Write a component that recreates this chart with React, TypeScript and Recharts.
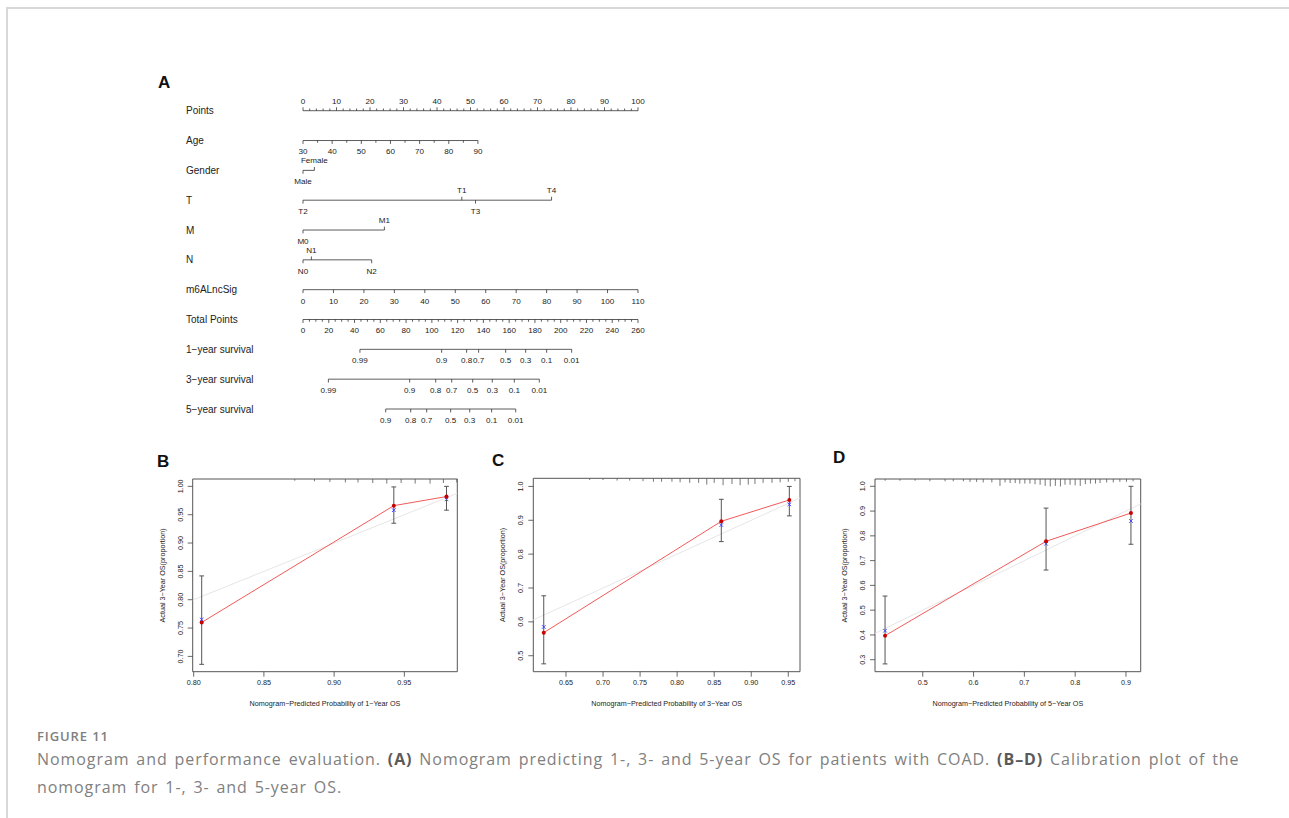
import React from 'react';
import {
  ComposedChart,
  XAxis,
  YAxis,
  Scatter,
  ReferenceLine,
  ReferenceArea,
  ErrorBar,
  Label,
} from 'recharts';

const FONT = '"Liberation Sans", Arial, Helvetica, sans-serif';
const CAP_FONT = '"Open Sans", "Noto Sans", sans-serif';

// ---------------- Panel A: nomogram ----------------
const rowNames = [
  'Points',
  'Age',
  'Gender',
  'T',
  'M',
  'N',
  'm6ALncSig',
  'Total Points',
  '1−year survival',
  '3−year survival',
  '5−year survival',
];

const pointsLabels = [0, 10, 20, 30, 40, 50, 60, 70, 80, 90, 100];
const POINTS_MINOR_STEP = 2;

const ageTickValues = [30, 35, 40, 45, 50, 55, 60, 65, 70, 75, 80, 85, 90];
const ageLabels = [30, 40, 50, 60, 70, 80, 90];
const AGE_AT_100_POINTS = 144.9; // age 90 scores ~52.2 points

const genderLevels = ['Male', 'Female'];
const genderPoints = [0, 3.4];
const genderSides = ['below', 'above'];

const tLevels = ['T2', 'T1', 'T3', 'T4'];
const tPoints = [0, 47.4, 51.5, 74.2];
const tSides = ['below', 'above', 'below', 'above'];

const mLevels = ['M0', 'M1'];
const mPoints = [0, 24.3];
const mSides = ['below', 'above'];

const nLevels = ['N0', 'N1', 'N2'];
const nPoints = [0, 2.5, 20.5];
const nSides = ['below', 'above', 'below'];

const sigLabels = [0, 10, 20, 30, 40, 50, 60, 70, 80, 90, 100, 110];
const SIG_AT_100_POINTS = 110;

const totalLabels = [0, 20, 40, 60, 80, 100, 120, 140, 160, 180, 200, 220, 240, 260];
const TOTAL_MINOR_STEP = 5;
const TOTAL_AT_100_POINTS = 260;

const survLabels1 = ['0.99', '0.9', '0.8', '0.7', '0.5', '0.3', '0.1', '0.01'];
const survTotal1 = [44.2, 107.6, 127.0, 136.3, 157.3, 172.8, 189.1, 208.5];
const survLabels3 = ['0.99', '0.9', '0.8', '0.7', '0.5', '0.3', '0.1', '0.01'];
const survTotal3 = [19.7, 82.8, 103.0, 115.4, 131.7, 146.9, 164.0, 183.4];
const survLabels5 = ['0.9', '0.8', '0.7', '0.5', '0.3', '0.1', '0.01'];
const survTotal5 = [64.2, 83.6, 96.0, 114.6, 129.4, 146.4, 165.1];

// ---------------- Panels B-D: calibration ----------------
const predB = [0.8057, 0.9425, 0.980];
const obsB = [0.760, 0.966, 0.982];
const corrB = [0.765, 0.958, 0.977];
const loB = [0.686, 0.935, 0.958];
const hiB = [0.842, 0.999, 1.0];
const rugXB = [0.872, 0.886, 0.897, 0.908, 0.917, 0.9275, 0.9375, 0.9477, 0.9577, 0.9683, 0.9778, 0.9873];
const rugNB = [1.5, 2, 2.5, 3, 3, 3.5, 4, 3.5, 4, 4, 3.5, 3];

const predC = [0.620, 0.8596, 0.9514];
const obsC = [0.568, 0.897, 0.960];
const corrC = [0.585, 0.886, 0.947];
const loC = [0.476, 0.837, 0.913];
const hiC = [0.677, 0.962, 1.0];
const rugXC = [0.682, 0.700, 0.719, 0.736, 0.754, 0.768, 0.779, 0.793, 0.804, 0.817, 0.829, 0.840, 0.850, 0.862, 0.874, 0.885, 0.896, 0.905, 0.916, 0.928, 0.939, 0.950, 0.959];
const rugNC = [1.5, 1.5, 2, 2, 2.5, 3, 3, 3, 3.5, 4, 4, 5.5, 4, 6, 5, 6, 5.5, 5, 4, 4, 3.5, 3, 2.5];

const predD = [0.4258, 0.7427, 0.9098];
const obsD = [0.397, 0.778, 0.892];
const corrD = [0.417, 0.768, 0.860];
const loD = [0.283, 0.662, 0.766];
const hiD = [0.557, 0.912, 1.0];
const rugXD = [0.426, 0.455, 0.485, 0.514, 0.544, 0.56, 0.580, 0.593, 0.606, 0.619, 0.636, 0.652, 0.662, 0.672, 0.682, 0.691, 0.701, 0.711, 0.721, 0.731, 0.741, 0.751, 0.761, 0.771, 0.780, 0.790, 0.800, 0.810, 0.820, 0.830, 0.840, 0.849, 0.862, 0.875, 0.888, 0.901, 0.914];
const rugND = [1.5, 1.5, 1.5, 2, 2, 2, 2, 2.5, 2.5, 3, 3, 6, 3, 3.5, 3.5, 4, 4, 4, 4.5, 5, 6, 6.5, 6, 6.5, 5, 5, 5.5, 6, 4.5, 4, 4, 3.5, 3, 3, 2.5, 2.5, 2];

// ---------------- helpers ----------------
type Side = 'above' | 'below';
interface Mark {
  x: number;
  y: number;
  label?: string;
  side: Side;
  minor?: boolean;
}

function buildMarks(row: number, xs: number[], labels: (string | undefined)[], sides: Side[] | Side, minor = false): Mark[] {
  return xs.map((x, i) => ({
    x,
    y: row,
    label: labels[i],
    side: Array.isArray(sides) ? sides[i] : sides,
    minor,
  }));
}

function stepValues(from: number, to: number, step: number, skip: number[]): number[] {
  const out: number[] = [];
  for (let v = from; v <= to + 1e-9; v += step) {
    if (!skip.some((s) => Math.abs(s - v) < 1e-9)) out.push(v);
  }
  return out;
}

const TickShape = (p: any) => {
  const { cx, cy, payload } = p;
  if (cx == null || cy == null) return <g />;
  const dir = payload.side === 'above' ? -1 : 1;
  const len = payload.minor ? 2.2 : 3.4;
  return (
    <g>
      <line x1={cx} y1={cy} x2={cx} y2={cy + dir * len} stroke="#333" strokeWidth={0.8} />
      {payload.label ? (
        <text
          x={cx}
          y={cy + (dir < 0 ? -10 : 11)}
          dy="0.35em"
          textAnchor="middle"
          fontSize={8.1}
          fill="#222"
          fontFamily={FONT}
        >
          {payload.label}
        </text>
      ) : null}
    </g>
  );
};

const RowLabel = (p: any) => (
  <text x={186} y={p.y} dy="0.36em" fontSize={10} fill="#222" fontFamily={FONT}>
    {rowNames[p.payload.value]}
  </text>
);

function Nomogram() {
  const pointsMinor = stepValues(0, 100, POINTS_MINOR_STEP, pointsLabels);
  const ageMinor = ageTickValues.filter((v) => !ageLabels.includes(v));
  const totalMinor = stepValues(0, 260, TOTAL_MINOR_STEP, totalLabels);

  const groups: { axis: string; data: Mark[] }[] = [
    { axis: 'pts', data: buildMarks(0, pointsMinor, [], 'above', true) },
    { axis: 'pts', data: buildMarks(0, pointsLabels, pointsLabels.map(String), 'above') },
    { axis: 'age', data: buildMarks(1, ageMinor, [], 'below', true) },
    { axis: 'age', data: buildMarks(1, ageLabels, ageLabels.map(String), 'below') },
    { axis: 'pts', data: buildMarks(2, genderPoints, genderLevels, genderSides as Side[]) },
    { axis: 'pts', data: buildMarks(3, tPoints, tLevels, tSides as Side[]) },
    { axis: 'pts', data: buildMarks(4, mPoints, mLevels, mSides as Side[]) },
    { axis: 'pts', data: buildMarks(5, nPoints, nLevels, nSides as Side[]) },
    { axis: 'sig', data: buildMarks(6, sigLabels, sigLabels.map(String), 'below') },
    { axis: 'tot', data: buildMarks(7, totalMinor, [], 'below', true) },
    { axis: 'tot', data: buildMarks(7, totalLabels, totalLabels.map(String), 'below') },
    { axis: 'tot', data: buildMarks(8, survTotal1, survLabels1, 'below') },
    { axis: 'tot', data: buildMarks(9, survTotal3, survLabels3, 'below') },
    { axis: 'tot', data: buildMarks(10, survTotal5, survLabels5, 'below') },
  ];

  const segs = [
    { axis: 'pts', row: 0, xs: pointsLabels },
    { axis: 'age', row: 1, xs: ageTickValues },
    { axis: 'pts', row: 2, xs: genderPoints },
    { axis: 'pts', row: 3, xs: tPoints },
    { axis: 'pts', row: 4, xs: mPoints },
    { axis: 'pts', row: 5, xs: nPoints },
    { axis: 'sig', row: 6, xs: sigLabels },
    { axis: 'tot', row: 7, xs: totalLabels },
    { axis: 'tot', row: 8, xs: survTotal1 },
    { axis: 'tot', row: 9, xs: survTotal3 },
    { axis: 'tot', row: 10, xs: survTotal5 },
  ];

  return (
    <ComposedChart width={700} height={440} margin={{ top: 110.7, right: 62, bottom: 31, left: 203 }}>
      <XAxis xAxisId="pts" type="number" dataKey="x" domain={[0, 100]} hide />
      <XAxis xAxisId="age" type="number" dataKey="x" domain={[30, AGE_AT_100_POINTS]} hide />
      <XAxis xAxisId="sig" type="number" dataKey="x" domain={[0, SIG_AT_100_POINTS]} hide />
      <XAxis xAxisId="tot" type="number" dataKey="x" domain={[0, TOTAL_AT_100_POINTS]} hide />
      <YAxis
        type="number"
        dataKey="y"
        domain={[0, 10]}
        reversed
        ticks={rowNames.map((_, i) => i)}
        interval={0}
        width={100}
        axisLine={false}
        tickLine={false}
        tick={(p: any) => <RowLabel {...p} />}
      />
      {segs.map((s, i) => (
        <ReferenceLine
          key={'seg' + i}
          xAxisId={s.axis}
          segment={[
            { x: Math.min(...s.xs), y: s.row },
            { x: Math.max(...s.xs), y: s.row },
          ]}
          stroke="#333"
          strokeWidth={0.8}
          ifOverflow="visible"
        />
      ))}
      {groups.map((g, i) => (
        <Scatter
          key={'grp' + i}
          xAxisId={g.axis}
          data={g.data}
          shape={(p: any) => <TickShape {...p} />}
          isAnimationActive={false}
        />
      ))}
    </ComposedChart>
  );
}

// ---------------- calibration chart ----------------
interface CalCfg {
  pred: number[];
  obs: number[];
  corr: number[];
  lo: number[];
  hi: number[];
  rugX: number[];
  rugN: number[];
  xDomain: [number, number];
  yDomain: [number, number];
  xTicks: number[];
  yTicks: number[];
  xDec: number;
  yDec: number;
  xLabel: string;
  margin: { top: number; right: number; bottom: number; left: number };
}

const calB: CalCfg = {
  pred: predB, obs: obsB, corr: corrB, lo: loB, hi: hiB, rugX: rugXB, rugN: rugNB,
  xDomain: [0.7993, 0.9877],
  yDomain: [0.673, 1.013],
  xTicks: [0.8, 0.85, 0.9, 0.95],
  yTicks: [0.7, 0.75, 0.8, 0.85, 0.9, 0.95, 1.0],
  xDec: 2, yDec: 2,
  xLabel: 'Nomogram−Predicted Probability of 1−Year OS',
  margin: { top: 34, right: 22.7, bottom: 13.3, left: 12.7 },
};
const calC: CalCfg = {
  pred: predC, obs: obsC, corr: corrC, lo: loC, hi: hiC, rugX: rugXC, rugN: rugNC,
  xDomain: [0.6059, 0.9658],
  yDomain: [0.4528, 1.024],
  xTicks: [0.65, 0.7, 0.75, 0.8, 0.85, 0.9, 0.95],
  yTicks: [0.5, 0.6, 0.7, 0.8, 0.9, 1.0],
  xDec: 2, yDec: 1,
  xLabel: 'Nomogram−Predicted Probability of 3−Year OS',
  margin: { top: 33.3, right: 20, bottom: 13.3, left: 13.3 },
};
const calD: CalCfg = {
  pred: predD, obs: obsD, corr: corrD, lo: loD, hi: hiD, rugX: rugXD, rugN: rugND,
  xDomain: [0.406, 0.929],
  yDomain: [0.2516, 1.0295],
  xTicks: [0.5, 0.6, 0.7, 0.8, 0.9],
  yTicks: [0.3, 0.4, 0.5, 0.6, 0.7, 0.8, 0.9, 1.0],
  xDec: 1, yDec: 1,
  xLabel: 'Nomogram−Predicted Probability of 5−Year OS',
  margin: { top: 34, right: 19.3, bottom: 13.3, left: 15 },
};

const Empty = () => <g />;

const RedDot = (p: any) =>
  p.cx == null ? <g /> : <circle cx={p.cx} cy={p.cy} r={2} fill="#c80000" />;

const BlueX = (p: any) =>
  p.cx == null ? (
    <g />
  ) : (
    <g stroke="#3b3bff" strokeWidth={0.9}>
      <line x1={p.cx - 1.8} y1={p.cy - 1.8} x2={p.cx + 1.8} y2={p.cy + 1.8} />
      <line x1={p.cx - 1.8} y1={p.cy + 1.8} x2={p.cx + 1.8} y2={p.cy - 1.8} />
    </g>
  );

const RugTick = (p: any) =>
  p.cx == null ? (
    <g />
  ) : (
    <line x1={p.cx} y1={p.cy} x2={p.cx} y2={p.cy + p.payload.n * 1.15} stroke="#555" strokeWidth={0.8} />
  );

function Calibration({ c }: { c: CalCfg }) {
  const obsData = c.pred.map((x, i) => ({
    x,
    y: c.obs[i],
    err: [c.obs[i] - c.lo[i], c.hi[i] - c.obs[i]],
  }));
  const corrData = c.pred.map((x, i) => ({ x, y: c.corr[i] }));
  const rugData = c.rugX.map((x, i) => ({ x, y: c.yDomain[1], n: c.rugN[i] }));

  const YTick = (p: any) => (
    <text
      transform={`translate(${p.x},${p.y}) rotate(-90)`}
      textAnchor="middle"
      fontSize={7.2}
      fill="#222"
      fontFamily={FONT}
    >
      {Number(p.payload.value).toFixed(c.yDec)}
    </text>
  );

  return (
    <ComposedChart width={330} height={270} margin={c.margin}>
      <XAxis
        type="number"
        dataKey="x"
        domain={c.xDomain}
        allowDataOverflow
        ticks={c.xTicks}
        interval={0}
        tickFormatter={(v: number) => v.toFixed(c.xDec)}
        axisLine={false}
        tickLine={{ stroke: '#444', strokeWidth: 0.8 }}
        tickSize={5}
        tickMargin={3}
        tick={{ fontSize: 7.2, fill: '#222', fontFamily: FONT }}
        height={30}
        label={
          <Label
            content={(lp: any) => {
              const vb = lp.viewBox || {};
              return (
                <text
                  x={vb.x + vb.width / 2}
                  y={vb.y + 34.5}
                  textAnchor="middle"
                  fontSize={7.2}
                  fill="#222"
                  fontFamily={FONT}
                >
                  {c.xLabel}
                </text>
              );
            }}
          />
        }
      />
      <YAxis
        type="number"
        dataKey="y"
        domain={c.yDomain}
        allowDataOverflow
        ticks={c.yTicks}
        interval={0}
        axisLine={false}
        tickLine={{ stroke: '#444', strokeWidth: 0.8 }}
        tickSize={5}
        tickMargin={5}
        tick={(p: any) => <YTick {...p} />}
        width={30}
        label={
          <Label
            content={(lp: any) => {
              const vb = lp.viewBox || {};
              return (
                <text
                  transform={`translate(${vb.x + 1.8},${vb.y + vb.height / 2}) rotate(-90)`}
                  textAnchor="middle"
                  fontSize={7.2}
                  fill="#222"
                  fontFamily={FONT}
                >
                  Actual 3−Year OS(proportion)
                </text>
              );
            }}
          />
        }
      />
      <ReferenceLine
        segment={[
          { x: c.xDomain[0], y: c.xDomain[0] },
          { x: c.xDomain[1], y: c.xDomain[1] },
        ]}
        stroke="#e6e6e6"
        strokeWidth={1}
        ifOverflow="visible"
      />
      <Scatter data={obsData} shape={(p: any) => <Empty {...p} />} isAnimationActive={false}>
        <ErrorBar dataKey="err" direction="y" width={2.4} stroke="#555" strokeWidth={1} isAnimationActive={false} />
      </Scatter>
      <Scatter
        data={obsData}
        line={{ stroke: '#f25a5a', strokeWidth: 1 }}
        shape={(p: any) => <Empty {...p} />}
        isAnimationActive={false}
      />
      <Scatter data={corrData} shape={(p: any) => <BlueX {...p} />} isAnimationActive={false} />
      <Scatter data={obsData} shape={(p: any) => <RedDot {...p} />} isAnimationActive={false} />
      <Scatter data={rugData} shape={(p: any) => <RugTick {...p} />} isAnimationActive={false} />
      <ReferenceArea
        x1={c.xDomain[0]}
        x2={c.xDomain[1]}
        y1={c.yDomain[0]}
        y2={c.yDomain[1]}
        fill="none"
        fillOpacity={0}
        stroke="#555"
        strokeWidth={1}
        ifOverflow="visible"
      />
    </ComposedChart>
  );
}

const letterStyle: React.CSSProperties = {
  position: 'absolute',
  fontFamily: FONT,
  fontWeight: 'bold',
  fontSize: 17,
  lineHeight: '17px',
  color: '#111',
};

const boldCap: React.CSSProperties = { color: '#5a5a5a', fontWeight: 700 };

export default function App() {
  return (
    <div style={{ position: 'absolute', left: 0, top: 0, width: 1289, height: 818, background: '#fff', overflow: 'hidden' }}>
      <div
        style={{
          position: 'absolute',
          left: 6,
          top: 7,
          width: 1300,
          height: 820,
          borderTop: '2px solid #d8d8d8',
          borderLeft: '2px solid #d8d8d8',
        }}
      />
      <div style={{ position: 'absolute', left: 0, top: 0 }}>
        <Nomogram />
      </div>
      <div style={{ position: 'absolute', left: 150, top: 445 }}>
        <Calibration c={calB} />
      </div>
      <div style={{ position: 'absolute', left: 490, top: 445 }}>
        <Calibration c={calC} />
      </div>
      <div style={{ position: 'absolute', left: 830, top: 445 }}>
        <Calibration c={calD} />
      </div>
      <div style={{ ...letterStyle, left: 158, top: 73.6 }}>A</div>
      <div style={{ ...letterStyle, left: 157, top: 452.6 }}>B</div>
      <div style={{ ...letterStyle, left: 492, top: 451.6 }}>C</div>
      <div style={{ ...letterStyle, left: 833, top: 448.6 }}>D</div>
      <div
        style={{
          position: 'absolute',
          left: 37,
          top: 728,
          fontFamily: CAP_FONT,
          fontWeight: 600,
          fontSize: 13,
          lineHeight: '16px',
          letterSpacing: 0.9,
          color: '#808080',
          whiteSpace: 'nowrap',
        }}
      >
        FIGURE 11
      </div>
      <div
        style={{
          position: 'absolute',
          left: 37,
          top: 746.3,
          fontFamily: CAP_FONT,
          fontSize: 16,
          lineHeight: '27.5px',
          letterSpacing: 0.93,
          wordSpacing: 1.8,
          color: '#808080',
          whiteSpace: 'nowrap',
        }}
      >
        Nomogram and performance evaluation. <b style={boldCap}>(A)</b> Nomogram predicting 1-, 3- and
        5-year OS for patients with COAD. <b style={boldCap}>(B–D)</b> Calibration plot of the
        <br />
        nomogram for 1-, 3- and 5-year OS.
      </div>
    </div>
  );
}
